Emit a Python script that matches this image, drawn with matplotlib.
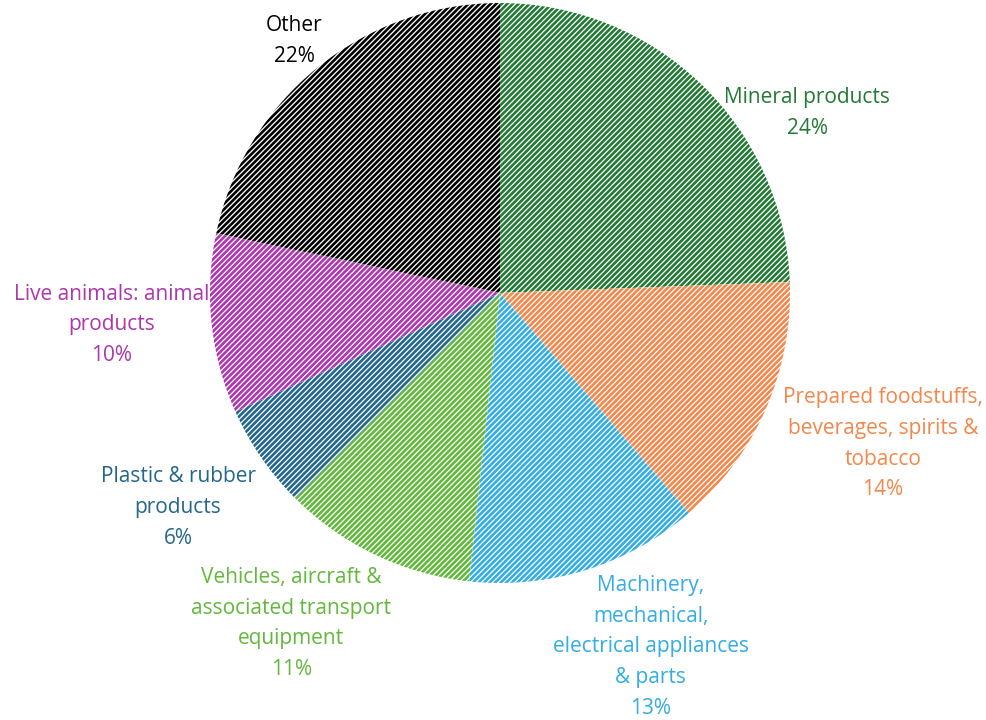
import numpy as np
from matplotlib import pyplot as plt

plt.rcParams['font.family'] = ['Open Sans', 'DejaVu Sans']
plt.rcParams['hatch.linewidth'] = 1.9

# 数据
categories = ['Mineral products',
              'Prepared foodstuffs,\nbeverages, spirits &\ntobacco',
              'Machinery,\nmechanical,\nelectrical appliances\n& parts',
              'Vehicles, aircraft &\nassociated transport\nequipment',
              'Plastic & rubber\nproducts',
              'Live animals: animal\nproducts',
              'Other']
shares = [24.4, 14.3, 13.0, 10.8, 5.8, 10.0, 21.7]
colors = ['#237A35', '#F4874B', '#33ADE3', '#62B83C', '#23678C', '#AE36AE', '#000000']

# 标签位置（数据坐标，半径=1）
label_xy = [(1.06, 0.62), (1.32, -0.52), (0.52, -1.22), (-0.72, -1.14),
            (-1.11, -0.74), (-1.34, -0.11), (-0.71, 0.87)]

fig = plt.figure(figsize=(9.87, 7.2), dpi=100)
cx, cy, r = 500, 293, 290
ax = fig.add_axes([(cx - r) / 987, (720 - cy - r) / 720, 2 * r / 987, 2 * r / 720])

wedges, _ = ax.pie(shares, startangle=90, counterclock=False, radius=1,
                   wedgeprops=dict(linewidth=0))
for w, c in zip(wedges, colors):
    w.set_facecolor('white')
    w.set_edgecolor(c)
    w.set_hatch('//////')
    w.set_linewidth(0)

for name, v, c, (x, y) in zip(categories, shares, colors, label_xy):
    ax.text(x, y, f'{name}\n{round(v)}%', color=c, fontsize=15,
            ha='center', va='center', linespacing=1.6)

ax.set_xlim(-1, 1)
ax.set_ylim(-1, 1)
ax.set_aspect('equal')
ax.axis('off')
fig.savefig('out.png', dpi=100)
